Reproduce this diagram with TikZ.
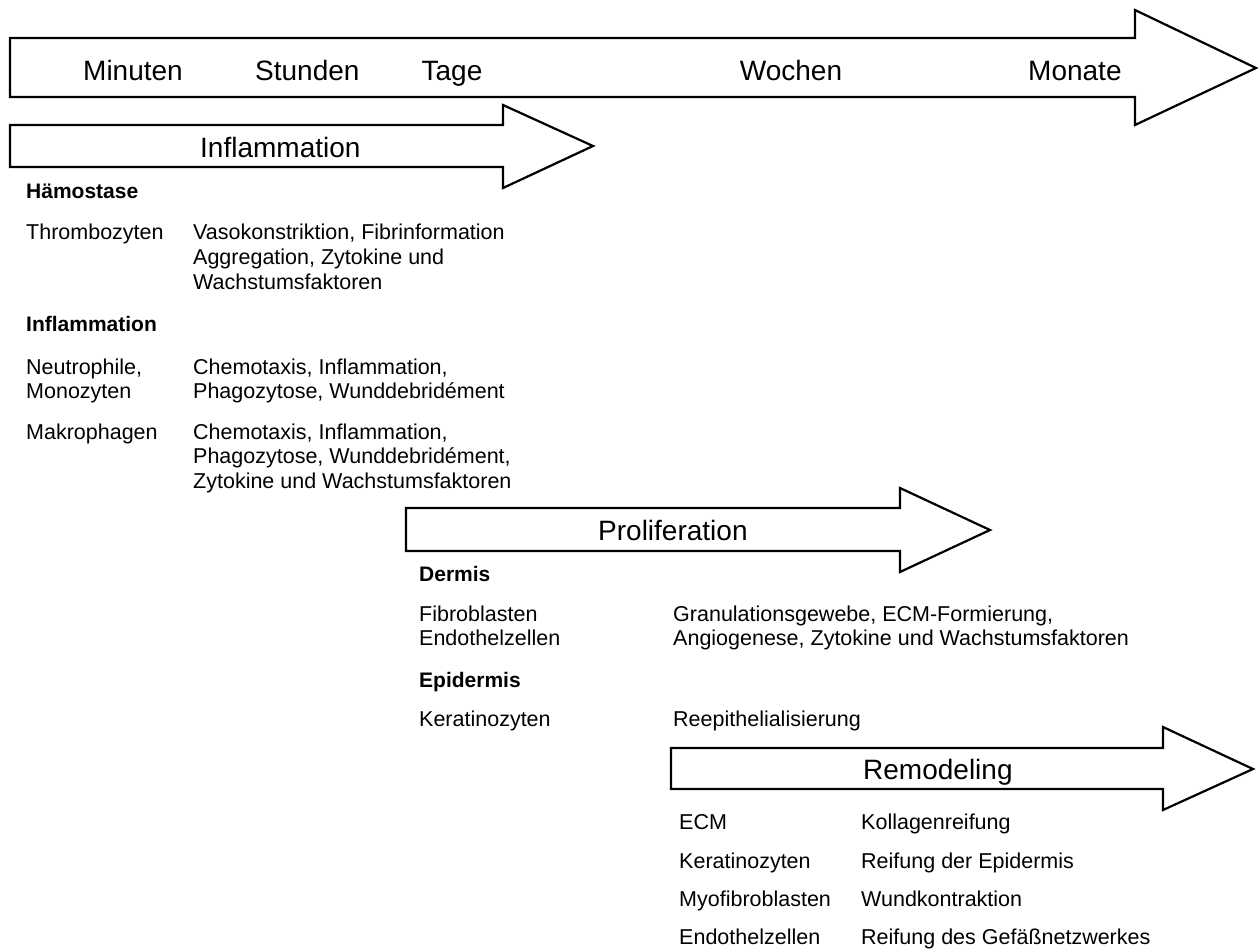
\documentclass[tikz,border=0pt]{standalone}
\usepackage{fontspec}
\setmainfont{Liberation Sans}
\begin{document}
\begin{tikzpicture}[x=1pt,y=-1pt,
  arr/.style={draw=black,line width=2.2pt,line join=miter,fill=white},
  lbl/.style={inner sep=0pt,font=\fontsize{28}{32}\selectfont},
  txt/.style={inner sep=0pt,anchor=base west,font=\fontsize{21.5}{25}\selectfont},
  hdr/.style={txt,font=\fontsize{21}{25}\selectfont\bfseries}]
\useasboundingbox (0,0) rectangle (1259,951);
% time arrow
\draw[arr] (10,38) -- (1135,38) -- (1135,10) -- (1256,68) -- (1135,125) -- (1135,97) -- (10,97) -- cycle;
\node[lbl,anchor=base west] (tmin) at (83,80) {Minuten};
\node[lbl,anchor=base west] (tstd) at (255,80) {Stunden};
\node[lbl,anchor=base] (ttag) at (452,80) {Tage};
\node[lbl,anchor=base] (twoc) at (791,80) {Wochen};
\node[lbl,anchor=base west] (tmon) at (1028,80) {Monate};
% inflammation arrow
\draw[arr] (10,125) -- (503,125) -- (503,105) -- (593,146) -- (503,188) -- (503,167) -- (10,167) -- cycle;
\node[lbl,anchor=base west] (infl) at (200,157) {Inflammation};
\node[hdr] (hamo) at (26,198) {Hämostase};
\node[txt] (thro) at (26,239) {Thrombozyten};
\node[txt] (thro1) at (193,239) {Vasokonstriktion, Fibrinformation};
\node[txt] (thro2) at (193,264) {Aggregation, Zytokine und};
\node[txt] (thro3) at (193,289) {Wachstumsfaktoren};
\node[hdr] (inflh) at (26,331) {Inflammation};
\node[txt] (neut) at (26,374) {Neutrophile,};
\node[txt] (mono) at (26,398) {Monozyten};
\node[txt] (neut1) at (193,374) {Chemotaxis, Inflammation,};
\node[txt] (neut2) at (193,398) {Phagozytose, Wunddebridément};
\node[txt] (makr) at (26,439) {Makrophagen};
\node[txt] (makr1) at (193,439) {Chemotaxis, Inflammation,};
\node[txt] (makr2) at (193,463) {Phagozytose, Wunddebridément,};
\node[txt] (makr3) at (193,488) {Zytokine und Wachstumsfaktoren};
% proliferation arrow
\draw[arr] (406,508) -- (900,508) -- (900,488) -- (990,530) -- (900,572) -- (900,551) -- (406,551) -- cycle;
\node[lbl,anchor=base west] (prol) at (598,540) {Proliferation};
\node[hdr] (derm) at (419,581) {Dermis};
\node[txt] (fibr) at (419,621) {Fibroblasten};
\node[txt] (endo) at (419,645) {Endothelzellen};
\node[txt] (fibr1) at (673,621) {Granulationsgewebe, ECM-Formierung,};
\node[txt] (fibr2) at (673,645) {Angiogenese, Zytokine und Wachstumsfaktoren};
\node[hdr] (epid) at (419,687) {Epidermis};
\node[txt] (kera) at (419,726) {Keratinozyten};
\node[txt] (kera1) at (673,726) {Reepithelialisierung};
% remodeling arrow
\draw[arr] (671,748) -- (1163,748) -- (1163,727) -- (1253,769) -- (1163,810) -- (1163,789) -- (671,789) -- cycle;
\node[lbl,anchor=base west] (remo) at (863,779) {Remodeling};
\node[txt] (ecm) at (679,829) {ECM};
\node[txt] (ecm1) at (861,829) {Kollagenreifung};
\node[txt] (rker) at (679,868) {Keratinozyten};
\node[txt] (rker1) at (861,868) {Reifung der Epidermis};
\node[txt] (myof) at (679,906) {Myofibroblasten};
\node[txt] (myof1) at (861,906) {Wundkontraktion};
\node[txt] (rend) at (679,944) {Endothelzellen};
\node[txt] (rend1) at (861,944) {Reifung des Gefäßnetzwerkes};
\end{tikzpicture}
\end{document}
